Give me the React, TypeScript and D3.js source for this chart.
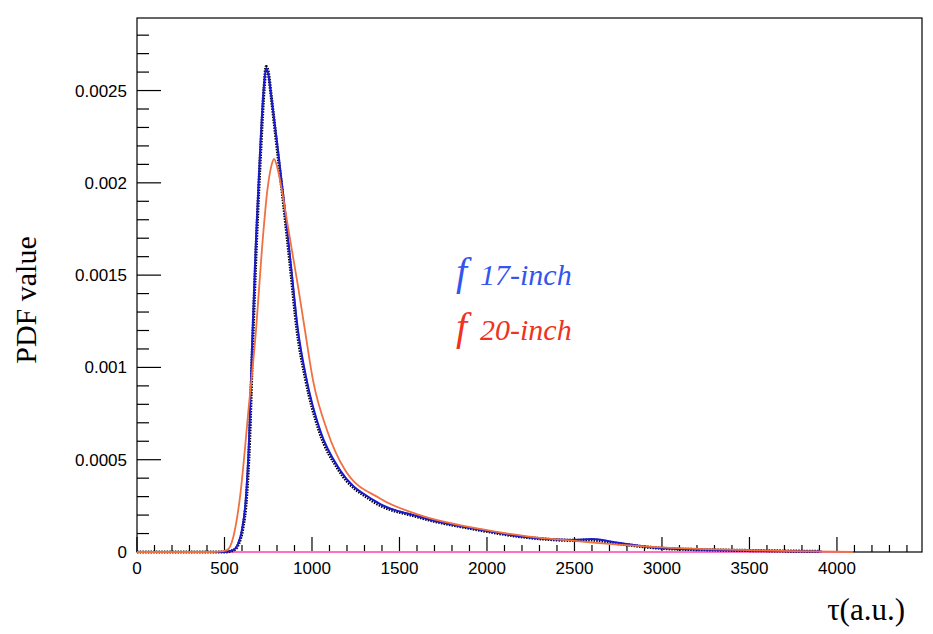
import React from "react";
import * as d3 from "d3";

const blueX = [0, 500, 549, 580, 600, 623, 640, 657, 680, 705, 725, 737, 750, 770, 800, 840, 880, 920, 970, 1046, 1160, 1349, 1617, 1960, 2229, 2500, 2600, 2750, 3000, 3250, 3500, 3914];
const blueY = [0, 0, 0.00001, 0.00005, 0.00012, 0.0003, 0.0006, 0.0011, 0.00169, 0.0022, 0.00252, 0.00262, 0.00259, 0.00245, 0.00222, 0.0019, 0.00155, 0.0012, 0.00093, 0.00066, 0.000444, 0.000282, 0.00019, 0.00012, 0.00008, 0.000065, 0.00007, 0.00005, 0.00002, 0.000012, 0.000008, 0.000003];
const blackX = [0, 500, 552, 583, 603, 626, 643, 660, 683, 708, 727, 738, 750, 768, 797, 836, 876, 915, 965, 1040, 1153, 1340, 1605, 1950, 2220, 2500, 2600, 2750, 3000, 3250, 3500, 3900];
const blackY = [0, 0, 0.00001, 0.00005, 0.00012, 0.0003, 0.0006, 0.0011, 0.00169, 0.0022, 0.00252, 0.00263, 0.0026, 0.00246, 0.00222, 0.0019, 0.00155, 0.0012, 0.00093, 0.00066, 0.000444, 0.00028, 0.00019, 0.00012, 0.00008, 0.000063, 0.000065, 0.000045, 0.00002, 0.000012, 0.000008, 0.000003];
const orangeX = [0, 430, 480, 514, 550, 589, 640, 680, 714, 745, 770, 783, 800, 820, 870, 920, 960, 1006, 1086, 1189, 1389, 1617, 1960, 2229, 2500, 2750, 3000, 3250, 3500, 3750, 4090];
const orangeY = [0, 0, 0.000003, 0.00001, 0.00008, 0.0003, 0.0008, 0.0012, 0.00164, 0.00196, 0.0021, 0.00213, 0.00209, 0.002, 0.00172, 0.00144, 0.0012, 0.00093, 0.00066, 0.000444, 0.00029, 0.0002, 0.000125, 0.000085, 0.00006, 0.00004, 0.000025, 0.000016, 0.00001, 0.000005, 0];
const xTicks = [0, 500, 1000, 1500, 2000, 2500, 3000, 3500, 4000];
const yTicks = [0, 0.0005, 0.001, 0.0015, 0.002, 0.0025];
const yTickLabels = ["0", "0.0005", "0.001", "0.0015", "0.002", "0.0025"];

const L = 137, R = 922, T = 18, B = 552;

export default function App() {
  const x = d3.scaleLinear().domain([0, 4486]).range([L, R]);
  const y = d3.scaleLinear().domain([0, 0.002893]).range([B, T]);
  const mk = (xs: number[], ys: number[]) =>
    d3.line<number>().x((_, i) => x(xs[i])).y((v) => y(v)).curve(d3.curveMonotoneX)(ys) || "";
  const minorX = d3.range(0, 4486, 100);
  const minorY = d3.range(0, 0.00289, 0.0001);
  return (
    <svg width={933} height={634} style={{ position: "absolute", left: 0, top: 0, background: "#fff" }}>
      <rect x={L} y={T} width={R - L} height={B - T} fill="none" stroke="#000" strokeWidth={1.2} />
      {minorX.map((v, i) => {
        const major = Math.round(v) % 500 === 0;
        return <line key={"mx" + i} x1={x(v)} x2={x(v)} y1={B} y2={B - (major ? 15 : 7)} stroke="#000" strokeWidth={1.2} />;
      })}
      {minorY.map((v, i) => {
        const major = i % 5 === 0;
        return <line key={"my" + i} x1={L} x2={L + (major ? 24 : 12)} y1={y(v)} y2={y(v)} stroke="#000" strokeWidth={1.2} />;
      })}
      {xTicks.map((v) => (
        <text key={"xt" + v} x={x(v)} y={B + 22} textAnchor="middle" fontFamily="Liberation Sans, Arial" fontSize={17}>{v}</text>
      ))}
      {yTicks.map((v, i) => (
        <text key={"yt" + v} x={L - 10} y={y(v) + 6} textAnchor="end" fontFamily="Liberation Sans, Arial" fontSize={17}>{yTickLabels[i]}</text>
      ))}
      <text transform="translate(36,300) rotate(-90)" textAnchor="middle" fontFamily="Liberation Serif, serif" fontSize={30}>PDF value</text>
      <text x={905} y={620} textAnchor="end" fontFamily="Liberation Serif, serif" fontSize={31}>τ(a.u.)</text>
      <line x1={x(0)} x2={x(4090)} y1={y(0)} y2={y(0)} stroke="#ff70c0" strokeWidth={2} />
      <path d={mk(blackX, blackY)} fill="none" stroke="#000" strokeWidth={3.2} strokeDasharray="1.5 1.2" />
      <path d={mk(blueX, blueY)} fill="none" stroke="#1a1ad0" strokeWidth={2} />
      <path d={mk(orangeX, orangeY)} fill="none" stroke="#f07040" strokeWidth={1.8} />
      <g fontFamily="Liberation Serif, serif" fontStyle="italic">
        <text x={456} y={285} fontSize={40} fill="#3355ee">f</text>
        <text x={480} y={285} fontSize={30} fill="#3355ee">17-inch</text>
        <text x={456} y={340} fontSize={40} fill="#ee3322">f</text>
        <text x={480} y={340} fontSize={30} fill="#ee3322">20-inch</text>
      </g>
    </svg>
  );
}
